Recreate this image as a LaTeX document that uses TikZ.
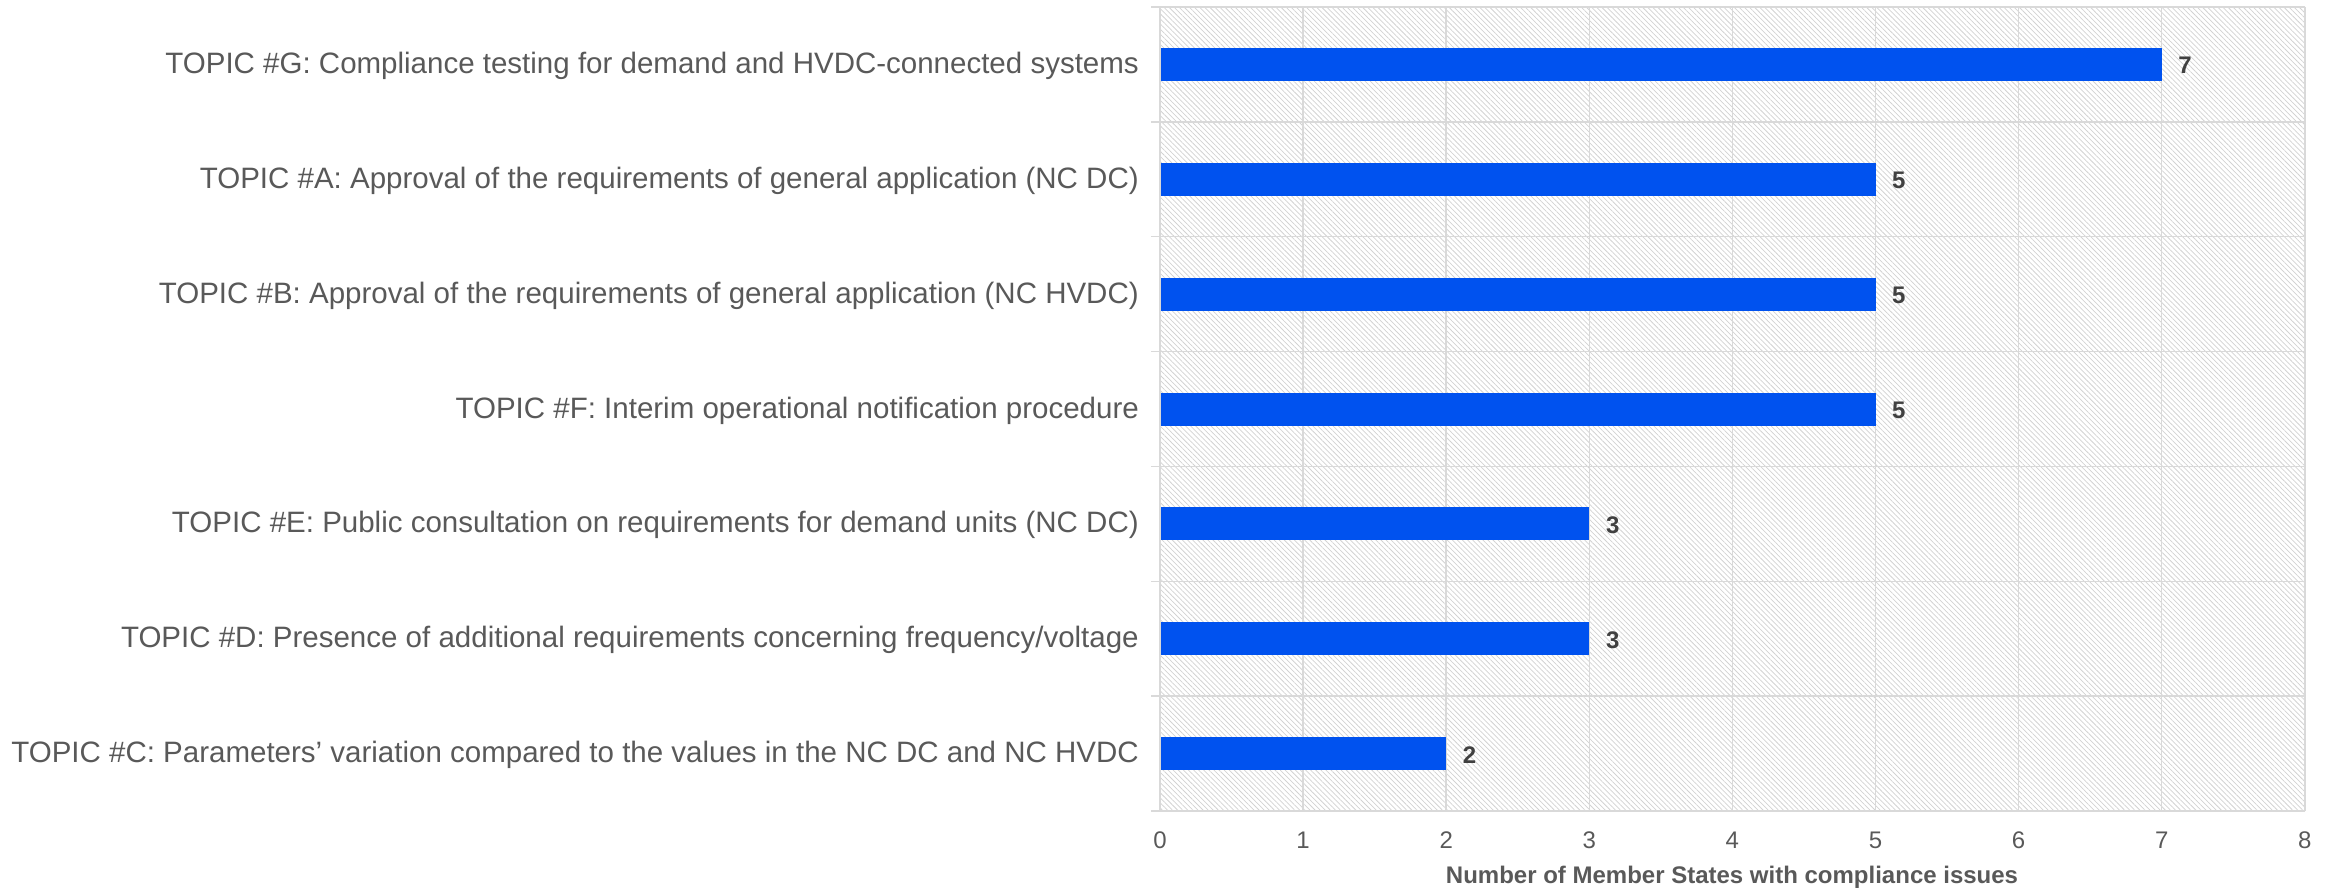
\documentclass[tikz,border=0pt]{standalone}
\usepackage{fontspec}
\setmainfont{Liberation Sans}
\usetikzlibrary{patterns.meta}
\definecolor{barblue}{HTML}{0052EF}
\definecolor{gridgray}{HTML}{D9D9D9}
\definecolor{hatchgray}{HTML}{D2D2D2}
\definecolor{labelgray}{HTML}{595959}
\definecolor{valgray}{HTML}{404040}
\begin{document}
\begin{tikzpicture}[x=1pt,y=-1pt,
  catlabel/.style={anchor=base east, inner sep=0pt, text=labelgray, font=\fontsize{29.5}{34}\selectfont},
  ticklabel/.style={anchor=base, inner sep=0pt, text=labelgray, font=\fontsize{24}{28}\selectfont},
  vallabel/.style={anchor=base west, inner sep=0pt, text=valgray, font=\bfseries\fontsize{24}{28}\selectfont},
  titlelabel/.style={anchor=base, inner sep=0pt, text=labelgray, font=\bfseries\fontsize{24}{28}\selectfont},
  gridline/.style={draw=gridgray, line width=1.5pt},
  barbox/.style={fill=barblue, draw=none}]
\useasboundingbox (0,0) rectangle (2334,890);
% hatched plot area
\fill[pattern={Lines[angle=-45,distance=3.6pt,line width=0.75pt]}, pattern color=hatchgray] (1160,7) rectangle (2305,811);
% vertical grid lines and tick labels
\foreach \k in {0,...,8}{
  \pgfmathsetmacro{\xx}{1160+143.1*\k}
  \draw[gridline] (\xx,7) -- (\xx,811);
  \node[ticklabel] (tick\k) at (\xx,848.5) {\k};
}
% horizontal category lines
\foreach \j in {0,...,7}{
  \pgfmathsetmacro{\yy}{7+114.86*\j}
  \draw[gridline] (1151,\yy) -- (2305,\yy);
}
% bars and labels
\foreach \i/\v/\txt in {
  0/7/{TOPIC \#G: Compliance testing for demand and HVDC-connected systems},
  1/5/{TOPIC \#A: Approval of the requirements of general application (NC DC)},
  2/5/{TOPIC \#B: Approval of the requirements of general application (NC HVDC)},
  3/5/{TOPIC \#F: Interim operational notification procedure},
  4/3/{TOPIC \#E: Public consultation on requirements for demand units (NC DC)},
  5/3/{TOPIC \#D: Presence of additional requirements concerning frequency/voltage},
  6/2/{TOPIC \#C: Parameters’ variation compared to the values in the NC DC and NC HVDC}}{
  \pgfmathsetmacro{\yc}{7+114.86*(\i+0.5)}
  \pgfmathsetmacro{\xe}{1160+143.1*\v}
  \fill[barbox] (1161,\yc-16.5) rectangle (\xe,\yc+16.5);
  \coordinate (barend\i) at (\xe,\yc);
  \node[vallabel] (val\i) at ([xshift=16.5pt,yshift=-9.5pt]barend\i) {\v};
  \node[catlabel] (lab\i) at (1139,\yc+9) {\txt};
}
\node[titlelabel] (axtitle) at (1732,883) {Number of Member States with compliance issues};
\end{tikzpicture}
\end{document}
